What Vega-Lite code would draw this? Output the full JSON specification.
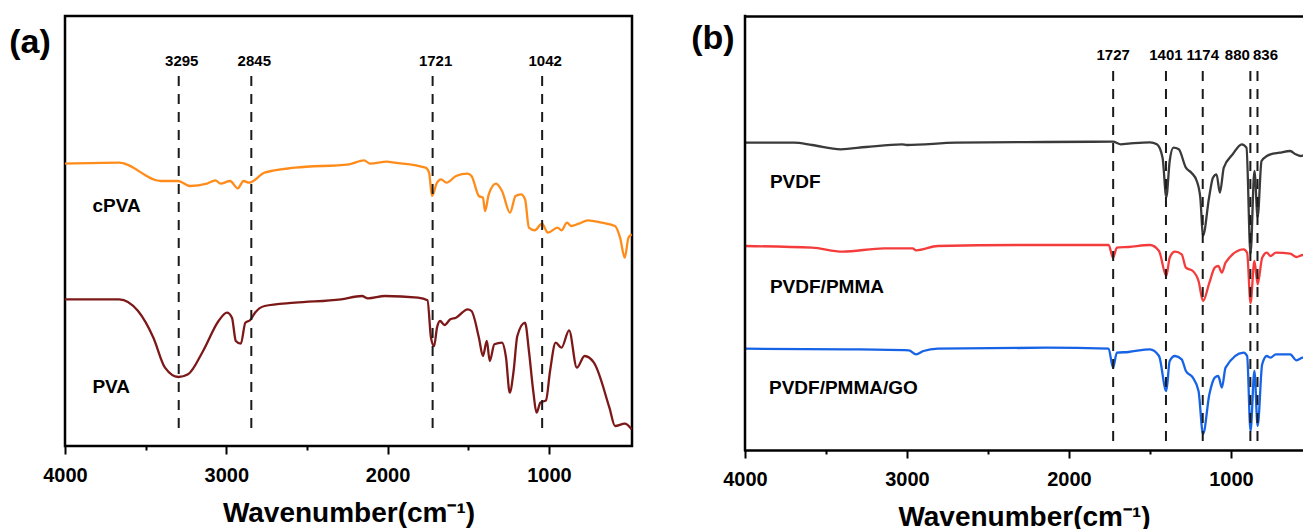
{
  "$schema": "https://vega.github.io/schema/vega-lite/v6.json",
  "background": "white",
  "padding": {"left": 7, "top": 14, "right": 0, "bottom": 0},
  "config": {"font": "Liberation Sans", "view": {"stroke": null}},
  "spacing": 113,
  "bounds": "flush",
  "resolve": {"scale": {"color": "independent"}},
  "datasets": {
    "specA": [
      {"s":"cPVA","w":4000,"t":282.3},{"s":"cPVA","w":3665,"t":283.3},{"s":"cPVA","w":3405,"t":265},{"s":"cPVA","w":3299,"t":265},{"s":"cPVA","w":3225,"t":260},{"s":"cPVA","w":3120,"t":262.3},{"s":"cPVA","w":3067,"t":265.7},{"s":"cPVA","w":3036,"t":262.3},{"s":"cPVA","w":2977,"t":265},{"s":"cPVA","w":2929,"t":257.7},{"s":"cPVA","w":2893,"t":265},{"s":"cPVA","w":2859,"t":263.3},{"s":"cPVA","w":2763,"t":273.3},{"s":"cPVA","w":2574,"t":278.3},{"s":"cPVA","w":2239,"t":281.7},{"s":"cPVA","w":2146,"t":285.7},{"s":"cPVA","w":2109,"t":282.3},{"s":"cPVA","w":2004,"t":284.3},{"s":"cPVA","w":1954,"t":283.3},{"s":"cPVA","w":1765,"t":278.3},{"s":"cPVA","w":1743,"t":273.3},{"s":"cPVA","w":1725,"t":250},{"s":"cPVA","w":1694,"t":263.3},{"s":"cPVA","w":1669,"t":266.7},{"s":"cPVA","w":1635,"t":263.3},{"s":"cPVA","w":1576,"t":270},{"s":"cPVA","w":1504,"t":272.3},{"s":"cPVA","w":1480,"t":270},{"s":"cPVA","w":1434,"t":250},{"s":"cPVA","w":1409,"t":248.3},{"s":"cPVA","w":1396,"t":235},{"s":"cPVA","w":1373,"t":251.7},{"s":"cPVA","w":1328,"t":262.3},{"s":"cPVA","w":1291,"t":255},{"s":"cPVA","w":1241,"t":233.3},{"s":"cPVA","w":1207,"t":250},{"s":"cPVA","w":1173,"t":251.7},{"s":"cPVA","w":1148,"t":246.7},{"s":"cPVA","w":1124,"t":218.3},{"s":"cPVA","w":1088,"t":215.7},{"s":"cPVA","w":1043,"t":222.3},{"s":"cPVA","w":1006,"t":213.3},{"s":"cPVA","w":946,"t":218.3},{"s":"cPVA","w":922,"t":215.7},{"s":"cPVA","w":888,"t":223.3},{"s":"cPVA","w":863,"t":220},{"s":"cPVA","w":815,"t":222.3},{"s":"cPVA","w":758,"t":225.7},{"s":"cPVA","w":673,"t":223.3},{"s":"cPVA","w":590,"t":220},{"s":"cPVA","w":559,"t":208.3},{"s":"cPVA","w":530,"t":188.3},{"s":"cPVA","w":507,"t":208.3},{"s":"cPVA","w":487,"t":211.7},
      {"s":"PVA","w":4000,"t":146.7},{"s":"PVA","w":3665,"t":146.7},{"s":"PVA","w":3547,"t":135},{"s":"PVA","w":3452,"t":108.3},{"s":"PVA","w":3380,"t":78.3},{"s":"PVA","w":3297,"t":69},{"s":"PVA","w":3237,"t":71.7},{"s":"PVA","w":3144,"t":95},{"s":"PVA","w":3048,"t":125},{"s":"PVA","w":2996,"t":133.3},{"s":"PVA","w":2965,"t":128.3},{"s":"PVA","w":2941,"t":105},{"s":"PVA","w":2910,"t":102.3},{"s":"PVA","w":2882,"t":123.3},{"s":"PVA","w":2853,"t":125.7},{"s":"PVA","w":2822,"t":133.3},{"s":"PVA","w":2763,"t":140},{"s":"PVA","w":2574,"t":143.3},{"s":"PVA","w":2289,"t":146.7},{"s":"PVA","w":2159,"t":150},{"s":"PVA","w":2122,"t":147.7},{"s":"PVA","w":2016,"t":150},{"s":"PVA","w":1812,"t":148.3},{"s":"PVA","w":1753,"t":145.7},{"s":"PVA","w":1731,"t":108.3},{"s":"PVA","w":1712,"t":100},{"s":"PVA","w":1694,"t":118.3},{"s":"PVA","w":1675,"t":125},{"s":"PVA","w":1647,"t":121},{"s":"PVA","w":1611,"t":126.7},{"s":"PVA","w":1576,"t":128.3},{"s":"PVA","w":1504,"t":136.7},{"s":"PVA","w":1480,"t":135},{"s":"PVA","w":1434,"t":108.3},{"s":"PVA","w":1409,"t":90},{"s":"PVA","w":1385,"t":105},{"s":"PVA","w":1367,"t":85},{"s":"PVA","w":1338,"t":101.7},{"s":"PVA","w":1291,"t":103.3},{"s":"PVA","w":1266,"t":88.3},{"s":"PVA","w":1243,"t":53.3},{"s":"PVA","w":1219,"t":75},{"s":"PVA","w":1196,"t":110},{"s":"PVA","w":1148,"t":123.3},{"s":"PVA","w":1124,"t":95},{"s":"PVA","w":1096,"t":53.3},{"s":"PVA","w":1077,"t":33.3},{"s":"PVA","w":1053,"t":43.3},{"s":"PVA","w":1018,"t":45.7},{"s":"PVA","w":993,"t":75},{"s":"PVA","w":958,"t":103.3},{"s":"PVA","w":922,"t":98.3},{"s":"PVA","w":875,"t":115.7},{"s":"PVA","w":827,"t":78.3},{"s":"PVA","w":779,"t":90},{"s":"PVA","w":721,"t":83.3},{"s":"PVA","w":625,"t":38.3},{"s":"PVA","w":590,"t":20},{"s":"PVA","w":530,"t":22.3},{"s":"PVA","w":487,"t":16.7}
    ],
    "specB": [
      {"s":"PVDF","w":4000,"t":307.3},{"s":"PVDF","w":3698,"t":307.3},{"s":"PVDF","w":3586,"t":305},{"s":"PVDF","w":3409,"t":300.7},{"s":"PVDF","w":3253,"t":303},{"s":"PVDF","w":3031,"t":305.7},{"s":"PVDF","w":3000,"t":305},{"s":"PVDF","w":2698,"t":307.3},{"s":"PVDF","w":2143,"t":308},{"s":"PVDF","w":1728,"t":308.3},{"s":"PVDF","w":1679,"t":305.7},{"s":"PVDF","w":1633,"t":306.3},{"s":"PVDF","w":1500,"t":307.7},{"s":"PVDF","w":1457,"t":305.7},{"s":"PVDF","w":1422,"t":292.3},{"s":"PVDF","w":1399,"t":253},{"s":"PVDF","w":1378,"t":289},{"s":"PVDF","w":1355,"t":302.3},{"s":"PVDF","w":1322,"t":300.7},{"s":"PVDF","w":1278,"t":282.3},{"s":"PVDF","w":1244,"t":277.3},{"s":"PVDF","w":1211,"t":269},{"s":"PVDF","w":1189,"t":252.3},{"s":"PVDF","w":1172,"t":214.5},{"s":"PVDF","w":1135,"t":252.3},{"s":"PVDF","w":1111,"t":272.3},{"s":"PVDF","w":1089,"t":275.7},{"s":"PVDF","w":1068,"t":257.3},{"s":"PVDF","w":1044,"t":282.3},{"s":"PVDF","w":989,"t":295.7},{"s":"PVDF","w":933,"t":305.7},{"s":"PVDF","w":904,"t":302.3},{"s":"PVDF","w":879,"t":196},{"s":"PVDF","w":855,"t":279},{"s":"PVDF","w":835,"t":233},{"s":"PVDF","w":811,"t":289},{"s":"PVDF","w":778,"t":294},{"s":"PVDF","w":756,"t":295.7},{"s":"PVDF","w":700,"t":297.3},{"s":"PVDF","w":634,"t":299},{"s":"PVDF","w":600,"t":295.7},{"s":"PVDF","w":568,"t":294},{"s":"PVDF","w":549,"t":295},
      {"s":"PVDF/PMMA","w":4000,"t":204},{"s":"PVDF/PMMA","w":3586,"t":202.3},{"s":"PVDF/PMMA","w":3398,"t":198.3},{"s":"PVDF/PMMA","w":3142,"t":201.7},{"s":"PVDF/PMMA","w":2965,"t":201.7},{"s":"PVDF/PMMA","w":2944,"t":199.7},{"s":"PVDF/PMMA","w":2810,"t":204},{"s":"PVDF/PMMA","w":2254,"t":205},{"s":"PVDF/PMMA","w":1755,"t":205},{"s":"PVDF/PMMA","w":1728,"t":192.3},{"s":"PVDF/PMMA","w":1704,"t":202.3},{"s":"PVDF/PMMA","w":1633,"t":203},{"s":"PVDF/PMMA","w":1500,"t":205},{"s":"PVDF/PMMA","w":1444,"t":199},{"s":"PVDF/PMMA","w":1399,"t":174},{"s":"PVDF/PMMA","w":1378,"t":192.3},{"s":"PVDF/PMMA","w":1346,"t":198.3},{"s":"PVDF/PMMA","w":1304,"t":195.7},{"s":"PVDF/PMMA","w":1278,"t":182.3},{"s":"PVDF/PMMA","w":1235,"t":179},{"s":"PVDF/PMMA","w":1200,"t":169},{"s":"PVDF/PMMA","w":1172,"t":149},{"s":"PVDF/PMMA","w":1133,"t":167.3},{"s":"PVDF/PMMA","w":1100,"t":182.3},{"s":"PVDF/PMMA","w":1078,"t":184},{"s":"PVDF/PMMA","w":1056,"t":177.3},{"s":"PVDF/PMMA","w":1033,"t":187.3},{"s":"PVDF/PMMA","w":922,"t":200.7},{"s":"PVDF/PMMA","w":900,"t":197.3},{"s":"PVDF/PMMA","w":879,"t":147},{"s":"PVDF/PMMA","w":855,"t":189},{"s":"PVDF/PMMA","w":835,"t":165.7},{"s":"PVDF/PMMA","w":807,"t":192.3},{"s":"PVDF/PMMA","w":778,"t":197.3},{"s":"PVDF/PMMA","w":756,"t":194},{"s":"PVDF/PMMA","w":722,"t":197.3},{"s":"PVDF/PMMA","w":634,"t":196.3},{"s":"PVDF/PMMA","w":595,"t":193},{"s":"PVDF/PMMA","w":556,"t":195},{"s":"PVDF/PMMA","w":549,"t":195},
      {"s":"PVDF/PMMA/GO","w":4000,"t":101.3},{"s":"PVDF/PMMA/GO","w":3364,"t":100.7},{"s":"PVDF/PMMA/GO","w":2988,"t":99.7},{"s":"PVDF/PMMA/GO","w":2944,"t":95.7},{"s":"PVDF/PMMA/GO","w":2898,"t":99},{"s":"PVDF/PMMA/GO","w":2810,"t":101.3},{"s":"PVDF/PMMA/GO","w":2143,"t":102.3},{"s":"PVDF/PMMA/GO","w":1755,"t":101.3},{"s":"PVDF/PMMA/GO","w":1728,"t":82.3},{"s":"PVDF/PMMA/GO","w":1704,"t":97.3},{"s":"PVDF/PMMA/GO","w":1633,"t":98},{"s":"PVDF/PMMA/GO","w":1500,"t":100.7},{"s":"PVDF/PMMA/GO","w":1444,"t":94},{"s":"PVDF/PMMA/GO","w":1399,"t":59},{"s":"PVDF/PMMA/GO","w":1378,"t":89},{"s":"PVDF/PMMA/GO","w":1346,"t":94},{"s":"PVDF/PMMA/GO","w":1304,"t":90.7},{"s":"PVDF/PMMA/GO","w":1278,"t":79},{"s":"PVDF/PMMA/GO","w":1235,"t":72.3},{"s":"PVDF/PMMA/GO","w":1200,"t":59},{"s":"PVDF/PMMA/GO","w":1172,"t":16},{"s":"PVDF/PMMA/GO","w":1133,"t":55.7},{"s":"PVDF/PMMA/GO","w":1100,"t":72.3},{"s":"PVDF/PMMA/GO","w":1078,"t":74},{"s":"PVDF/PMMA/GO","w":1056,"t":62.3},{"s":"PVDF/PMMA/GO","w":1033,"t":82.3},{"s":"PVDF/PMMA/GO","w":922,"t":97.3},{"s":"PVDF/PMMA/GO","w":900,"t":94},{"s":"PVDF/PMMA/GO","w":879,"t":19},{"s":"PVDF/PMMA/GO","w":855,"t":79},{"s":"PVDF/PMMA/GO","w":835,"t":24},{"s":"PVDF/PMMA/GO","w":807,"t":85.7},{"s":"PVDF/PMMA/GO","w":778,"t":94},{"s":"PVDF/PMMA/GO","w":756,"t":92.3},{"s":"PVDF/PMMA/GO","w":722,"t":95.7},{"s":"PVDF/PMMA/GO","w":634,"t":95.7},{"s":"PVDF/PMMA/GO","w":595,"t":89.7},{"s":"PVDF/PMMA/GO","w":556,"t":92.3},{"s":"PVDF/PMMA/GO","w":549,"t":92.3}
    ],
    "peaksA": [{"w":3295,"label":"3295"},{"w":2845,"label":"2845"},{"w":1721,"label":"1721"},{"w":1042,"label":"1042"}],
    "peaksB": [{"w":1727,"label":"1727"},{"w":1401,"label":"1401"},{"w":1174,"label":"1174"},{"w":880,"label":"880"},{"w":836,"label":"836"}],
    "edgeB": [{"w":4000}],
    "namesA": [{"w":3830,"t":240,"name":"cPVA"},{"w":3830,"t":59,"name":"PVA"},{"w":4217,"t":403,"name":"(a)"}],
    "namesB": [{"w":3846,"t":268.5,"name":"PVDF"},{"w":3846,"t":163,"name":"PVDF/PMMA"},{"w":3852,"t":62,"name":"PVDF/PMMA/GO"},{"w":4198,"t":411,"name":"(b)"}]
  },
  "hconcat": [
    {
      "width": 567,
      "height": 430,
      "view": {"stroke": "black", "strokeWidth": 2.5},
      "resolve": {"axis": {"x": "independent"}},
      "layer": [
        {
          "data": {"name": "specA"},
          "mark": {"type": "line", "strokeWidth": 2.3, "clip": true, "interpolate": "monotone"},
          "encoding": {
            "x": {"field": "w", "type": "quantitative", "scale": {"domain": [4000, 485], "nice": false, "zero": false},
              "axis": {"orient": "bottom", "values": [4000, 3000, 2000, 1000], "format": "d", "title": "Wavenumber(cm⁻¹)", "domain": false, "grid": false, "tickSize": 8, "tickWidth": 2, "tickColor": "black", "labelFontSize": 20, "labelFontWeight": "bold", "labelColor": "black", "labelPadding": 11, "labelFlush": false, "titleFontSize": 28, "titleFontWeight": "bold", "titleColor": "black", "titlePadding": 14}},
            "y": {"field": "t", "type": "quantitative", "scale": {"domain": [0, 430], "nice": false, "zero": false},
              "axis": {"title": "Transmittance(%)", "ticks": false, "labels": false, "domain": false, "grid": false, "titleFontSize": 28, "titleFontWeight": "bold", "titleColor": "black", "titlePadding": 8}},
            "color": {"field": "s", "type": "nominal", "scale": {"domain": ["cPVA", "PVA"], "range": ["#ff8c1a", "#7d1818"]}, "legend": null}
          }
        },
        {
          "data": {"name": "peaksA"},
          "mark": {"type": "rule", "strokeDash": [10, 8], "strokeWidth": 2, "color": "#1a1a1a"},
          "encoding": {
            "x": {"field": "w", "type": "quantitative", "axis": {"orient": "bottom", "values": [3500, 2500, 1500], "labels": false, "domain": false, "grid": false, "title": null, "tickSize": 4, "tickWidth": 2, "tickColor": "black"}},
            "y": {"datum": 370, "axis": null},
            "y2": {"datum": 11}
          }
        },
        {
          "data": {"name": "peaksA"},
          "mark": {"type": "text", "fontSize": 15, "fontWeight": "bold", "dx": 3, "color": "black"},
          "encoding": {
            "x": {"field": "w", "type": "quantitative", "axis": null},
            "y": {"datum": 385, "axis": null},
            "text": {"field": "label"}
          }
        },
        {
          "data": {"name": "namesA"},
          "transform": [{"filter": "datum.name != '(a)'"}],
          "mark": {"type": "text", "align": "left", "fontSize": 19, "fontWeight": "bold", "color": "black"},
          "encoding": {
            "x": {"field": "w", "type": "quantitative", "axis": null},
            "y": {"field": "t", "type": "quantitative", "axis": null},
            "text": {"field": "name"}
          }
        },
        {
          "data": {"name": "namesA"},
          "transform": [{"filter": "datum.name == '(a)'"}],
          "mark": {"type": "text", "align": "center", "fontSize": 34, "fontWeight": "bold", "color": "black"},
          "encoding": {
            "x": {"field": "w", "type": "quantitative", "axis": null},
            "y": {"field": "t", "type": "quantitative", "axis": null},
            "text": {"field": "name"}
          }
        }
      ]
    },
    {
      "width": 558,
      "height": 434,
      "view": {"stroke": null},
      "resolve": {"axis": {"x": "independent"}},
      "layer": [
        {
          "data": {"name": "specB"},
          "mark": {"type": "line", "strokeWidth": 2.3, "clip": true, "interpolate": "monotone"},
          "encoding": {
            "x": {"field": "w", "type": "quantitative", "scale": {"domain": [4000, 555], "nice": false, "zero": false},
              "axis": {"orient": "bottom", "values": [4000, 3000, 2000, 1000], "format": "d", "title": "Wavenumber(cm⁻¹)", "domain": true, "domainWidth": 2.5, "domainColor": "black", "domainCap": "square", "grid": false, "tickSize": 8, "tickWidth": 2, "tickColor": "black", "labelFontSize": 20, "labelFontWeight": "bold", "labelColor": "black", "labelPadding": 11, "labelFlush": false, "titleFontSize": 28, "titleFontWeight": "bold", "titleColor": "black", "titlePadding": 14}},
            "y": {"field": "t", "type": "quantitative", "scale": {"domain": [0, 434], "nice": false, "zero": false},
              "axis": {"title": "Transmittance(%)", "ticks": false, "labels": false, "domain": true, "domainWidth": 2.5, "domainColor": "black", "grid": false, "titleFontSize": 28, "titleFontWeight": "bold", "titleColor": "black", "titlePadding": 8}},
            "color": {"field": "s", "type": "nominal", "scale": {"domain": ["PVDF", "PVDF/PMMA", "PVDF/PMMA/GO"], "range": ["#3a3a3a", "#f43c3c", "#1763e6"]}, "legend": null}
          }
        },
        {
          "data": {"name": "peaksB"},
          "mark": {"type": "rule", "strokeDash": [10, 8], "strokeWidth": 2, "color": "#1a1a1a"},
          "encoding": {
            "x": {"field": "w", "type": "quantitative", "axis": {"orient": "bottom", "values": [3500, 2500, 1500], "labels": false, "domain": false, "grid": false, "title": null, "tickSize": 4, "tickWidth": 2, "tickColor": "black"}},
            "y": {"datum": 379, "axis": null},
            "y2": {"datum": 2}
          }
        },
        {
          "data": {"name": "edgeB"},
          "mark": {"type": "rule", "strokeWidth": 2.5, "color": "black", "strokeCap": "square"},
          "encoding": {
            "x": {"field": "w", "type": "quantitative", "axis": null},
            "y": {"datum": 0, "axis": null},
            "y2": {"datum": 434}
          }
        },
        {
          "data": {"name": "peaksB"},
          "transform": [{"filter": "datum.label != '880' && datum.label != '836'"}],
          "mark": {"type": "text", "fontSize": 15, "fontWeight": "bold", "color": "black"},
          "encoding": {
            "x": {"field": "w", "type": "quantitative", "axis": null},
            "y": {"datum": 395, "axis": null},
            "text": {"field": "label"}
          }
        },
        {
          "data": {"name": "peaksB"},
          "transform": [{"filter": "datum.label == '880'"}],
          "mark": {"type": "text", "fontSize": 15, "fontWeight": "bold", "color": "black", "dx": -13},
          "encoding": {
            "x": {"field": "w", "type": "quantitative", "axis": null},
            "y": {"datum": 395, "axis": null},
            "text": {"field": "label"}
          }
        },
        {
          "data": {"name": "peaksB"},
          "transform": [{"filter": "datum.label == '836'"}],
          "mark": {"type": "text", "fontSize": 15, "fontWeight": "bold", "color": "black", "dx": 8},
          "encoding": {
            "x": {"field": "w", "type": "quantitative", "axis": null},
            "y": {"datum": 395, "axis": null},
            "text": {"field": "label"}
          }
        },
        {
          "data": {"name": "namesB"},
          "transform": [{"filter": "datum.name != '(b)'"}],
          "mark": {"type": "text", "align": "left", "fontSize": 19, "fontWeight": "bold", "color": "black"},
          "encoding": {
            "x": {"field": "w", "type": "quantitative", "axis": {"orient": "top", "labels": false, "ticks": false, "grid": false, "title": null, "domain": true, "domainWidth": 2.5, "domainColor": "black", "domainCap": "square"}},
            "y": {"field": "t", "type": "quantitative", "axis": null},
            "text": {"field": "name"}
          }
        },
        {
          "data": {"name": "namesB"},
          "transform": [{"filter": "datum.name == '(b)'"}],
          "mark": {"type": "text", "align": "center", "fontSize": 34, "fontWeight": "bold", "color": "black"},
          "encoding": {
            "x": {"field": "w", "type": "quantitative", "axis": null},
            "y": {"field": "t", "type": "quantitative", "axis": null},
            "text": {"field": "name"}
          }
        }
      ]
    }
  ]
}
